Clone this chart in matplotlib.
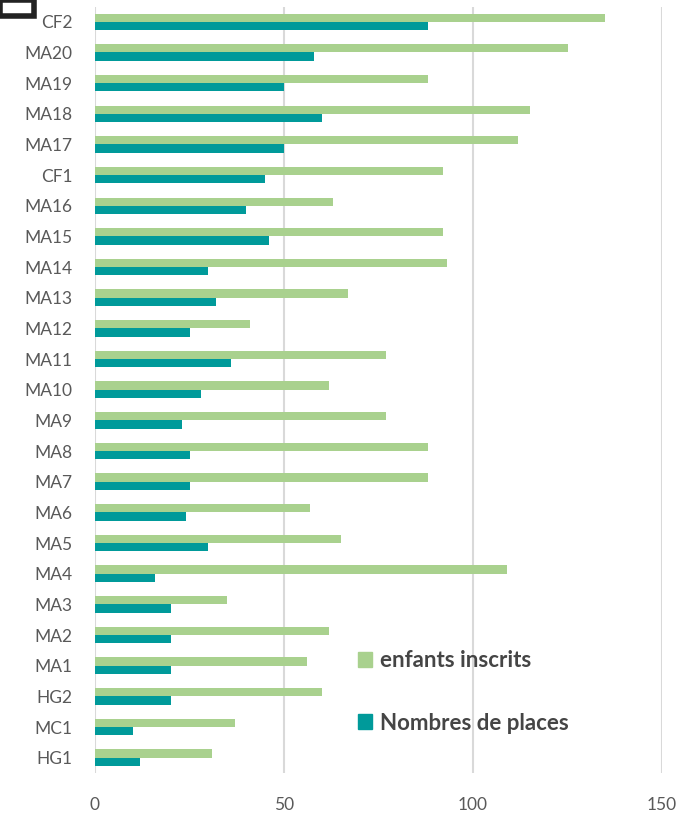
import matplotlib
matplotlib.use("Agg")
import matplotlib.pyplot as plt
from matplotlib.patches import Rectangle, Patch
import numpy as np

categories = ["CF2", "MA20", "MA19", "MA18", "MA17", "CF1", "MA16", "MA15", "MA14",
              "MA13", "MA12", "MA11", "MA10", "MA9", "MA8", "MA7", "MA6", "MA5",
              "MA4", "MA3", "MA2", "MA1", "HG2", "MC1", "HG1"]
enfants_inscrits = [135, 125, 88, 115, 112, 92, 63, 92, 93, 67, 41, 77, 62, 77, 88, 88,
                    57, 65, 109, 35, 62, 56, 60, 37, 31]
nombres_places = [88, 58, 50, 60, 50, 45, 40, 46, 30, 32, 25, 36, 28, 23, 25, 25,
                  24, 30, 16, 20, 20, 20, 20, 10, 12]
xticks = [0, 50, 100, 150]

GREEN = "#A9D18E"
TEAL = "#009A9A"

plt.rcParams['font.family'] = ['Lato', 'DejaVu Sans']

fig = plt.figure(figsize=(6.8, 8.14), dpi=100)
ax = fig.add_axes([95/680, 41/814, (662-95)/680, (807.5-41)/814])

n = len(categories)
y = np.arange(n)
h = 0.27
ax.barh(y - h/2, enfants_inscrits, height=h, color=GREEN, label="enfants inscrits", zorder=3)
ax.barh(y + h/2, nombres_places, height=h, color=TEAL, label="Nombres de places", zorder=3)

ax.set_yticks(y)
ax.set_yticklabels(categories)
ax.set_ylim(n - 0.5, -0.5)
ax.set_xlim(0, 150)
ax.set_xticks(xticks)
ax.set_xticklabels([str(t) for t in xticks])
ax.grid(axis='x', color="#D9D9D9", linewidth=1.5, zorder=0)
ax.set_axisbelow(True)
for s in ax.spines.values():
    s.set_visible(False)
ax.tick_params(axis='both', length=0, labelsize=12.5, labelcolor="#595959")
ax.tick_params(axis='y', pad=16)
ax.tick_params(axis='x', pad=17)

handles = [Patch(color=GREEN, label="enfants inscrits"),
           Patch(color=TEAL, label="Nombres de places")]
leg = ax.legend(handles=handles, loc="center left",
                bbox_to_anchor=((358-95)/567, (773-692)/766.5),
                frameon=False, handlelength=0.65, handleheight=0.65, handletextpad=0.33,
                labelspacing=1.85, prop={'size': 16, 'weight': 'bold'}, labelcolor="#454545",
                borderaxespad=0, borderpad=0)

# frame artifact in top-left corner
fig.patches.append(Rectangle((0, 1 - 16/814), 34/680, 16/814, transform=fig.transFigure,
                             facecolor="white", edgecolor="#222222", linewidth=4, zorder=10))

fig.savefig("out.png", dpi=100)
